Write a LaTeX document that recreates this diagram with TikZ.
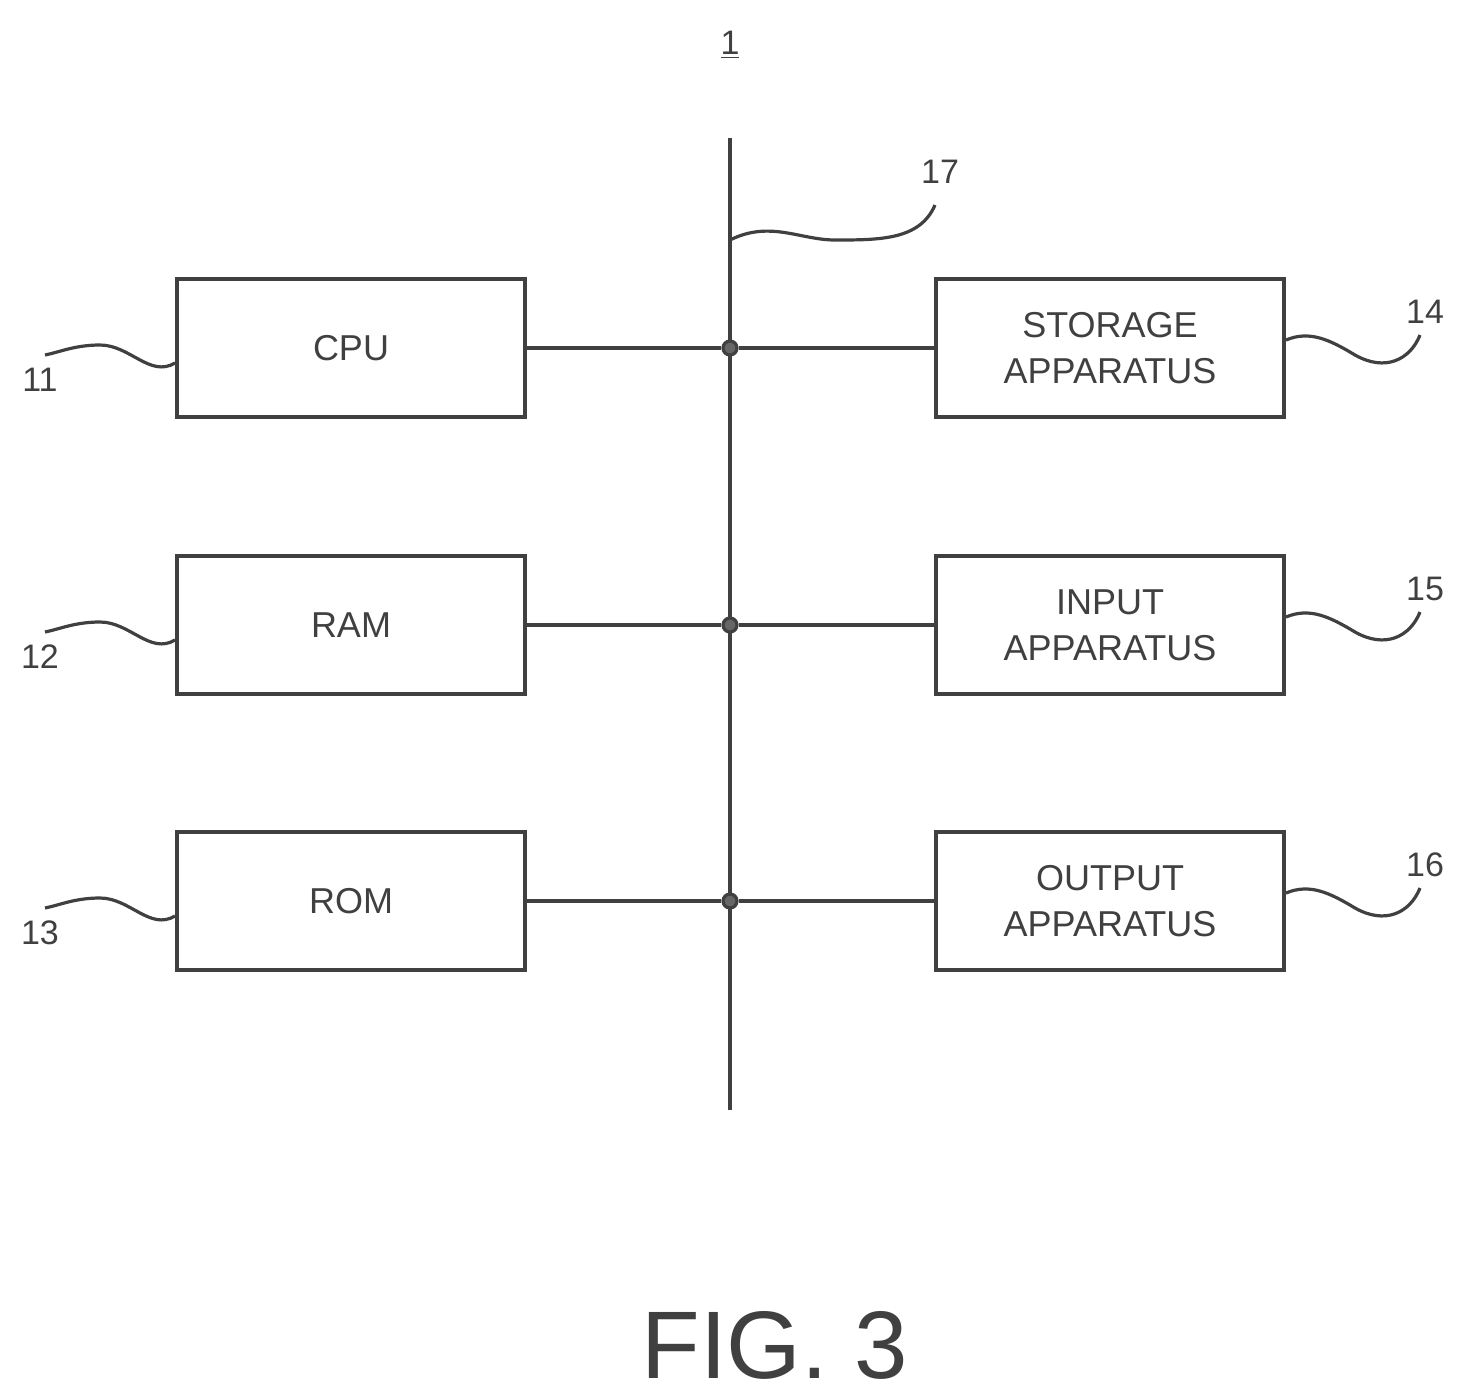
\documentclass[tikz,border=0pt]{standalone}
\usepackage{fontspec}
\setmainfont{Liberation Sans}
\begin{document}
\begin{tikzpicture}[x=0.5pt,y=-0.5pt,line width=1.6pt,draw=black!75,
  box/.style={draw=black!75,line width=2pt,minimum width=174pt,minimum height=69pt,align=center,font=\fontsize{18}{23}\selectfont,text=black!75,inner sep=0pt},
  lab/.style={font=\fontsize{17}{20}\selectfont,text=black!75},
  dot/.style={circle,fill=black!60,draw=black!75,inner sep=0pt,minimum size=7pt}]
\useasboundingbox (0,0) rectangle (1466,1398);
\node[box] (cpu) at (351,348) {CPU};
\node[box] (ram) at (351,625) {RAM};
\node[box] (rom) at (351,901) {ROM};
\node[box] (sto) at (1110,348) {STORAGE\\APPARATUS};
\node[box] (inp) at (1110,625) {INPUT\\APPARATUS};
\node[box] (out) at (1110,901) {OUTPUT\\APPARATUS};
\coordinate (bt) at (730,138);
\coordinate (bb) at (730,1110);
\draw (bt) -- (bb);
\node[dot] (j1) at (730,348) {};
\node[dot] (j2) at (730,625) {};
\node[dot] (j3) at (730,901) {};
\draw (cpu) -- (j1) -- (sto);
\draw (ram) -- (j2) -- (inp);
\draw (rom) -- (j3) -- (out);
\node[lab] (l1) at (730,45) {\underline{1}};
\node[lab] (l17) at (940,172) {17};
\coordinate (w17) at (730,240);
\draw (w17) .. controls (770,220) and (800,240) .. (835,240) .. controls (880,240) and (920,240) .. (935,205);
\foreach \b/\t/\y in {cpu/11/0,ram/12/277,rom/13/553}{
  \node[lab] (n\t) at (40,380+\y) {\t};
  \draw (\b.west) ++(0,15) .. controls (150,378+\y) and (130,345+\y) .. (100,345+\y) .. controls (75,345+\y) and (60,352+\y) .. (45,355+\y);
}
\foreach \b/\t/\y in {sto/14/0,inp/15/277,out/16/553}{
  \node[lab] (n\t) at (1425,312+\y) {\t};
  \draw (\b.east) ++(0,-8) .. controls (1310,330+\y) and (1330,340+\y) .. (1355,355+\y) .. controls (1385,372+\y) and (1410,360+\y) .. (1420,335+\y);
}
\node[font=\fontsize{48}{50}\selectfont,text=black!75] (fig) at (775,1345) {FIG. 3};
\end{tikzpicture}
\end{document}
